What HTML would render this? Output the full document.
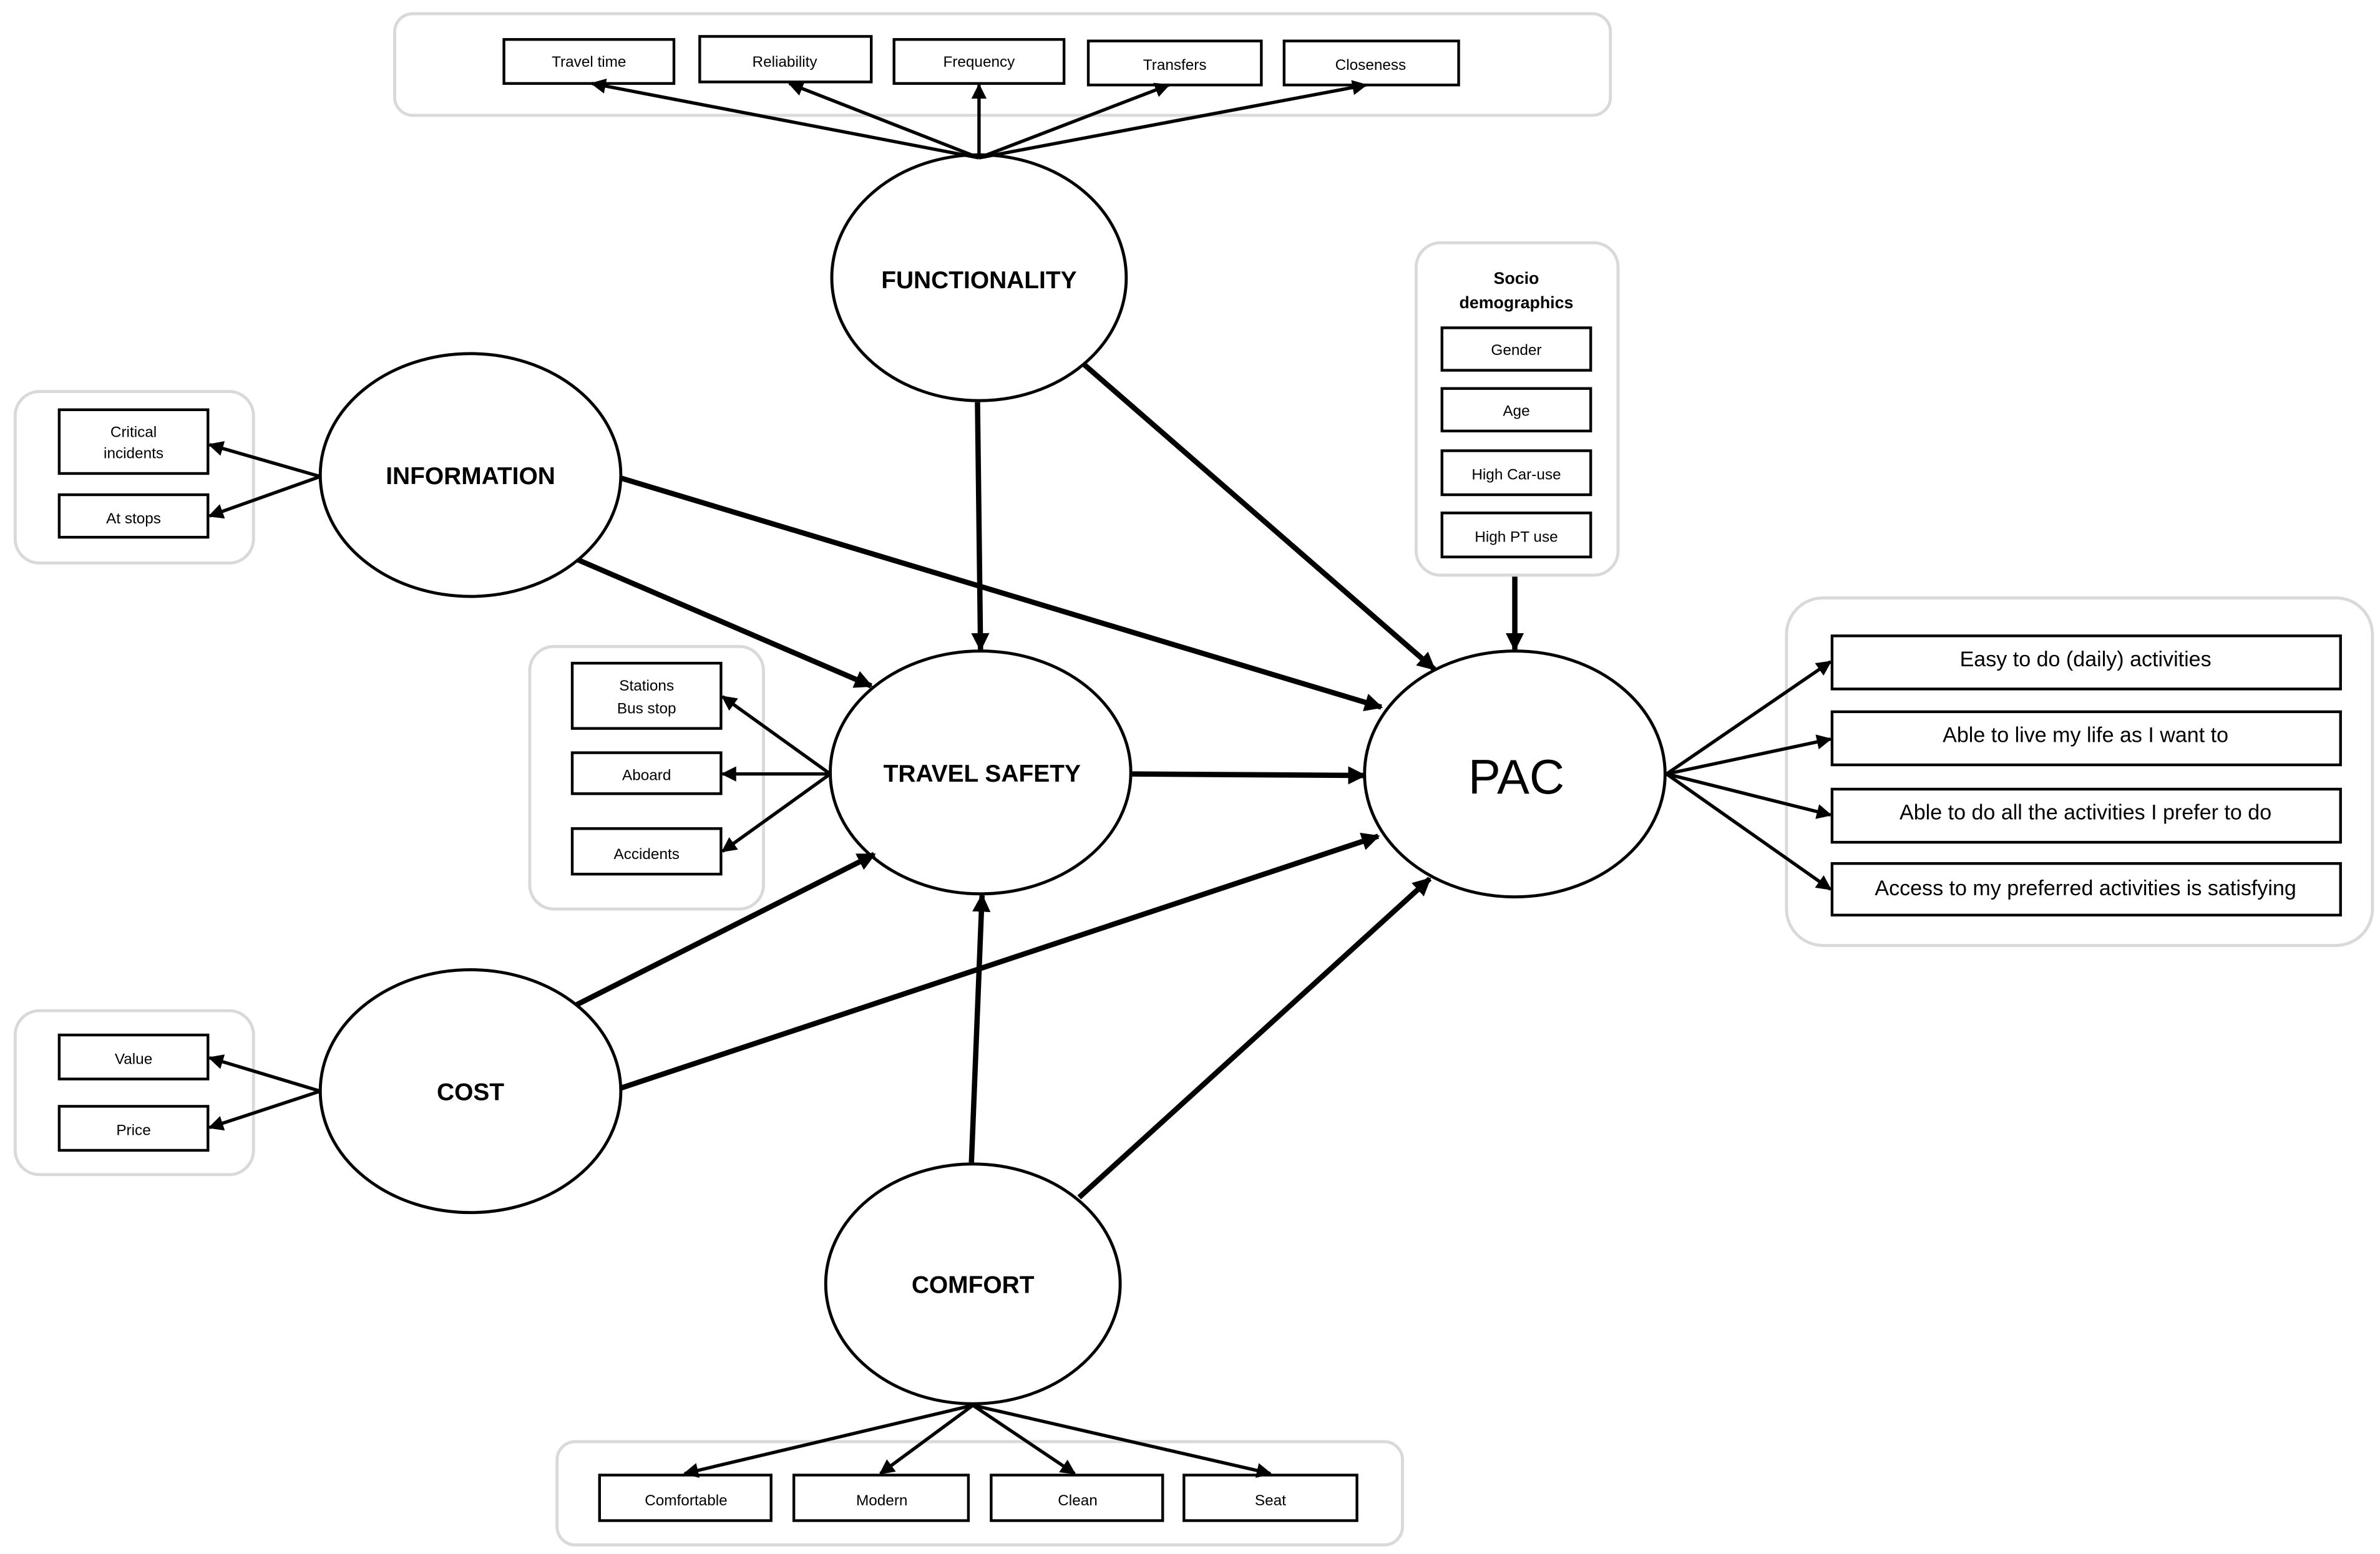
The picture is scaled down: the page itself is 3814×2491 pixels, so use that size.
<!DOCTYPE html>
<html><head><meta charset="utf-8"><style>html,body{margin:0;padding:0;background:#fff}svg{display:block}</style></head>
<body>
<svg width="3814" height="2491" viewBox="0 0 1568 1024" preserveAspectRatio="none" xmlns="http://www.w3.org/2000/svg" font-family="Liberation Sans, sans-serif">
<defs>
<marker id="a" viewBox="0 0 10 10" refX="9" refY="5" markerWidth="11" markerHeight="10" orient="auto" markerUnits="userSpaceOnUse"><path d="M0,0 L10,5 L0,10 z" fill="#000"/></marker>
<marker id="b" viewBox="0 0 10 10" refX="9" refY="5" markerWidth="12" markerHeight="12" orient="auto" markerUnits="userSpaceOnUse"><path d="M0,0 L10,5 L0,10 z" fill="#000"/></marker>
</defs>
<g fill="none" stroke="#d9d9d9" stroke-width="2">
<rect x="260" y="9" width="801" height="67" rx="12"/>
<rect x="10" y="258" width="157" height="113" rx="16"/>
<rect x="349" y="426" width="154" height="173" rx="16"/>
<rect x="10" y="666" width="157" height="108" rx="16"/>
<rect x="933" y="160" width="133" height="219" rx="16"/>
<rect x="1177" y="394" width="386" height="229" rx="24"/>
<rect x="367" y="950" width="557" height="68" rx="12"/>
</g>
<g stroke="#000" stroke-width="2" fill="#fff">
<ellipse cx="645" cy="183" rx="97" ry="81"/>
<ellipse cx="310" cy="313" rx="99" ry="80"/>
<ellipse cx="646" cy="509" rx="99" ry="80"/>
<ellipse cx="998" cy="510" rx="99" ry="81"/>
<ellipse cx="310" cy="719" rx="99" ry="80"/>
<ellipse cx="641" cy="846" rx="97" ry="79"/>
</g>
<g stroke="#000" stroke-width="1.8" fill="#fff">
<rect x="332" y="26" width="112" height="29"/><rect x="461" y="24" width="113" height="30"/><rect x="589" y="26" width="112" height="29"/><rect x="717" y="27" width="114" height="29"/><rect x="846" y="27" width="115" height="29"/>
<rect x="39" y="270" width="98" height="42"/><rect x="39" y="326" width="98" height="28"/>
<rect x="377" y="437" width="98" height="43"/><rect x="377" y="496" width="98" height="27"/><rect x="377" y="546" width="98" height="30"/>
<rect x="39" y="682" width="98" height="29"/><rect x="39" y="729" width="98" height="29"/>
<rect x="950" y="216" width="98" height="28"/><rect x="950" y="256" width="98" height="28"/><rect x="950" y="297" width="98" height="29"/><rect x="950" y="338" width="98" height="29"/>
<rect x="1207" y="419" width="335" height="35"/><rect x="1207" y="469" width="335" height="35"/><rect x="1207" y="520" width="335" height="35"/><rect x="1207" y="569" width="335" height="34"/>
<rect x="395" y="972" width="113" height="30"/><rect x="523" y="972" width="115" height="30"/><rect x="653" y="972" width="113" height="30"/><rect x="780" y="972" width="114" height="30"/>
</g>
<g stroke="#000" stroke-width="2.2" fill="none" marker-end="url(#a)">
<line x1="645" y1="104" x2="390" y2="55"/><line x1="645" y1="104" x2="520" y2="55"/><line x1="645" y1="104" x2="645" y2="56"/><line x1="645" y1="104" x2="770" y2="56"/><line x1="645" y1="104" x2="900" y2="56"/>
<line x1="211" y1="314" x2="138" y2="293"/><line x1="211" y1="314" x2="138" y2="340"/>
<line x1="547" y1="510" x2="476" y2="459"/><line x1="547" y1="510" x2="476" y2="510"/><line x1="547" y1="510" x2="476" y2="561"/>
<line x1="211" y1="719" x2="138" y2="697"/><line x1="211" y1="719" x2="138" y2="743"/>
<line x1="1098" y1="510" x2="1206" y2="436"/><line x1="1098" y1="510" x2="1206" y2="487"/><line x1="1098" y1="510" x2="1206" y2="537"/><line x1="1098" y1="510" x2="1206" y2="586"/>
<line x1="641" y1="926" x2="451" y2="971"/><line x1="641" y1="926" x2="580" y2="971"/><line x1="641" y1="926" x2="708" y2="971"/><line x1="641" y1="926" x2="837" y2="971"/>
</g>
<g stroke="#000" stroke-width="3.5" fill="none" marker-end="url(#b)">
<line x1="644" y1="265" x2="646" y2="428"/>
<line x1="714" y1="240" x2="945" y2="441"/>
<line x1="409" y1="315" x2="910" y2="466"/>
<line x1="381" y1="369" x2="574" y2="452"/>
<line x1="746" y1="510" x2="899" y2="511"/>
<line x1="998" y1="380" x2="998" y2="428"/>
<line x1="380" y1="662" x2="576" y2="563"/>
<line x1="409" y1="717" x2="908" y2="551"/>
<line x1="640" y1="766" x2="647" y2="590"/>
<line x1="711" y1="789" x2="942" y2="579"/>
</g>
<g text-anchor="middle" font-size="10" fill="#000">
<text x="388" y="44">Travel time</text><text x="517" y="44">Reliability</text><text x="645" y="44">Frequency</text><text x="774" y="46">Transfers</text><text x="903" y="46">Closeness</text>
<text x="88" y="288">Critical</text><text x="88" y="302">incidents</text><text x="88" y="345">At stops</text>
<text x="426" y="455">Stations</text><text x="426" y="470">Bus stop</text><text x="426" y="514">Aboard</text><text x="426" y="566">Accidents</text>
<text x="88" y="701">Value</text><text x="88" y="748">Price</text>
<text x="999" y="234">Gender</text><text x="999" y="274">Age</text><text x="999" y="316">High Car-use</text><text x="999" y="357">High PT use</text>
<text x="452" y="992">Comfortable</text><text x="581" y="992">Modern</text><text x="710" y="992">Clean</text><text x="837" y="992">Seat</text>
<g font-weight="bold" font-size="11"><text x="999" y="187">Socio</text><text x="999" y="203">demographics</text></g>
<g font-size="14"><text x="1374" y="439">Easy to do (daily) activities</text><text x="1374" y="489">Able to live my life as I want to</text><text x="1374" y="540">Able to do all the activities I prefer to do</text><text x="1374" y="590">Access to my preferred activities is satisfying</text></g>
<g font-weight="bold" font-size="16"><text x="645" y="190">FUNCTIONALITY</text><text x="310" y="319">INFORMATION</text><text x="647" y="515">TRAVEL SAFETY</text><text x="310" y="725">COST</text><text x="641" y="852">COMFORT</text></g>
<text x="999" y="523" font-size="32">PAC</text>
</g>
</svg>
</body></html>
